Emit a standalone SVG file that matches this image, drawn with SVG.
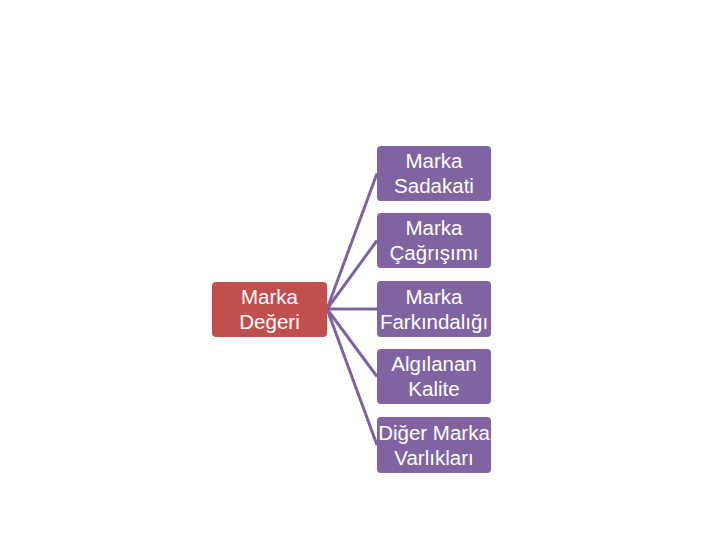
<svg xmlns="http://www.w3.org/2000/svg" width="720" height="540" viewBox="0 0 720 540">
<style>
.box{stroke:none}
.p{fill:#8064A2}
.r{fill:#C0504D}
.t{font-family:"Liberation Sans",Arial,sans-serif;font-size:20.5px;fill:#FFFFFF;text-anchor:middle}
.c{stroke:#7F63A1;stroke-width:3;fill:none}
</style>
<rect width="720" height="540" fill="#FFFFFF"/>
<g id="connectors">
<line class="c" x1="327" y1="309" x2="377" y2="173.5"/>
<line class="c" x1="327" y1="309" x2="377" y2="240.5"/>
<line class="c" x1="327" y1="309" x2="377" y2="309"/>
<line class="c" x1="327" y1="309" x2="377" y2="376.5"/>
<line class="c" x1="327" y1="309" x2="377" y2="445"/>
</g>
<g id="marka-degeri">
<rect class="box r" x="212" y="282" width="115" height="55" rx="4"/>
<text class="t" x="269.5" y="304">Marka</text>
<text class="t" x="269.5" y="329">Değeri</text>
</g>
<g id="marka-sadakati">
<rect class="box p" x="377" y="146" width="114" height="55" rx="4"/>
<text class="t" x="434" y="168">Marka</text>
<text class="t" x="434" y="193">Sadakati</text>
</g>
<g id="marka-cagrisimi">
<rect class="box p" x="377" y="213" width="114" height="55" rx="4"/>
<text class="t" x="434" y="235">Marka</text>
<text class="t" x="434" y="260">Çağrışımı</text>
</g>
<g id="marka-farkindaligi">
<rect class="box p" x="377" y="281" width="114" height="56" rx="4"/>
<text class="t" x="434" y="304">Marka</text>
<text class="t" x="434" y="329">Farkındalığı</text>
</g>
<g id="algilanan-kalite">
<rect class="box p" x="377" y="349" width="114" height="55" rx="4"/>
<text class="t" x="434" y="371">Algılanan</text>
<text class="t" x="434" y="396">Kalite</text>
</g>
<g id="diger-marka-varliklari">
<rect class="box p" x="377" y="417" width="114" height="56" rx="4"/>
<text class="t" x="434" y="440">Diğer Marka</text>
<text class="t" x="434" y="465">Varlıkları</text>
</g>
</svg>
